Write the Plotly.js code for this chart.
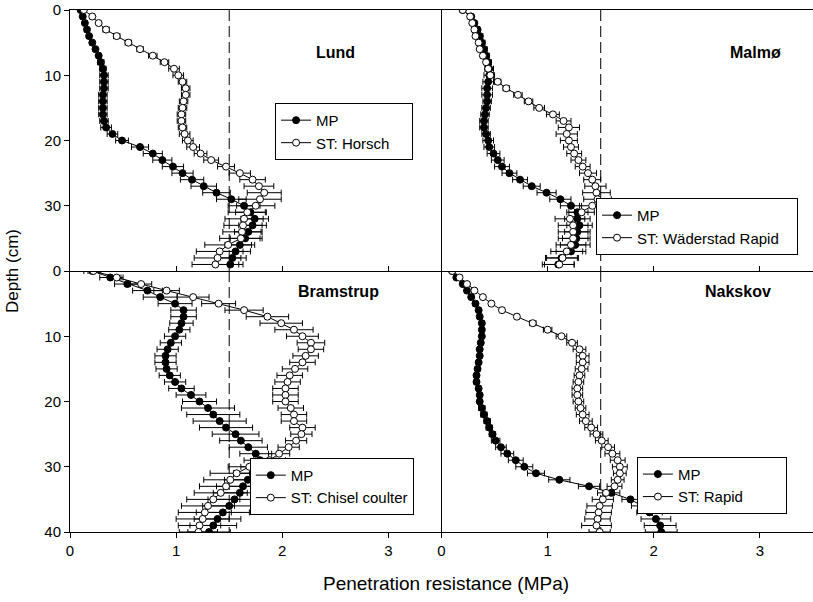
<!DOCTYPE html>
<html>
<head>
<meta charset="utf-8">
<script src="https://cdn.plot.ly/plotly-3.0.1.min.js"></script>
<style>html,body{margin:0;padding:0;background:#fff;}#chart{width:813px;height:602px;}</style>
</head>
<body>
<div id="chart"></div>
<script>
// ---------- DATA ----------
const depthTop = [0,1,2,3,4,5,6,7,8,9,10,11,12,13,14,15,16,17,18,19,20,21,22,23,24,25,26,27,28,29,30,31,32,33,34,35,36,37,38,39];
const depthBottom = [0,1,2,3,4,5,6,7,8,9,10,11,12,13,14,15,16,17,18,19,20,21,22,23,24,25,26,27,28,29,30,31,32,33,34,35,36,37,38,39,40];

const lundMP = [0.10,0.12,0.14,0.16,0.18,0.21,0.24,0.27,0.29,0.31,0.32,0.32,0.32,0.31,0.31,0.31,0.31,0.32,0.34,0.40,0.49,0.66,0.78,0.87,0.97,1.06,1.15,1.26,1.38,1.52,1.64,1.70,1.74,1.72,1.68,1.65,1.60,1.56,1.53,1.51];
const lundMPerr = [0.01,0.01,0.02,0.02,0.02,0.02,0.02,0.02,0.03,0.03,0.04,0.04,0.04,0.04,0.04,0.04,0.04,0.04,0.05,0.05,0.06,0.08,0.09,0.09,0.10,0.10,0.11,0.12,0.13,0.14,0.15,0.14,0.13,0.13,0.13,0.14,0.14,0.14,0.13,0.12];
const lundST = [0.13,0.21,0.27,0.34,0.44,0.55,0.66,0.78,0.89,0.98,1.02,1.06,1.09,1.09,1.07,1.06,1.05,1.05,1.06,1.08,1.11,1.16,1.23,1.33,1.47,1.60,1.72,1.78,1.83,1.79,1.75,1.67,1.64,1.63,1.62,1.61,1.49,1.41,1.39,1.37];
const lundSTerr = [0.01,0.02,0.02,0.03,0.03,0.03,0.03,0.04,0.04,0.05,0.05,0.04,0.04,0.04,0.04,0.04,0.04,0.04,0.04,0.05,0.05,0.06,0.06,0.07,0.08,0.10,0.12,0.14,0.16,0.20,0.18,0.18,0.18,0.18,0.18,0.20,0.22,0.22,0.22,0.22];

const malmoMP = [0.20,0.28,0.31,0.34,0.36,0.38,0.40,0.42,0.44,0.45,0.45,0.44,0.43,0.43,0.43,0.42,0.41,0.40,0.40,0.42,0.44,0.45,0.49,0.53,0.57,0.64,0.74,0.85,0.99,1.12,1.22,1.28,1.28,1.30,1.28,1.27,1.26,1.22,1.13,1.10];
const malmoMPerr = [0.01,0.02,0.02,0.02,0.03,0.03,0.03,0.03,0.03,0.04,0.05,0.05,0.05,0.05,0.04,0.04,0.04,0.04,0.04,0.04,0.05,0.05,0.06,0.06,0.07,0.07,0.07,0.08,0.09,0.10,0.10,0.10,0.12,0.12,0.12,0.13,0.14,0.14,0.15,0.15];
const malmoST = [0.20,0.27,0.29,0.31,0.32,0.35,0.36,0.39,0.42,0.44,0.46,0.53,0.61,0.72,0.82,0.92,1.05,1.15,1.20,1.18,1.20,1.22,1.25,1.29,1.33,1.38,1.42,1.45,1.46,1.47,1.42,1.32,1.21,1.24,1.24,1.24,1.22,1.18,1.14,1.11];
const malmoSTerr = [0.01,0.02,0.02,0.02,0.02,0.02,0.02,0.02,0.02,0.03,0.03,0.03,0.03,0.04,0.04,0.05,0.06,0.07,0.10,0.10,0.08,0.07,0.07,0.07,0.07,0.08,0.08,0.10,0.13,0.13,0.12,0.12,0.14,0.14,0.14,0.14,0.14,0.15,0.15,0.14];

const bramMP = [0.21,0.38,0.54,0.73,0.85,0.99,1.07,1.07,1.05,1.03,0.99,0.95,0.92,0.90,0.90,0.91,0.94,0.99,1.05,1.14,1.22,1.30,1.35,1.41,1.47,1.56,1.61,1.68,1.75,1.79,1.76,1.72,1.675,1.63,1.60,1.55,1.50,1.44,1.39,1.35,1.31];
const bramMPerr = [0.08,0.10,0.12,0.14,0.16,0.16,0.12,0.12,0.11,0.10,0.10,0.10,0.10,0.10,0.10,0.10,0.10,0.10,0.12,0.14,0.16,0.25,0.25,0.25,0.25,0.22,0.20,0.18,0.15,0.15,0.15,0.18,0.22,0.25,0.25,0.25,0.25,0.25,0.22,0.22,0.20];
const bramST = [0.22,0.44,0.67,0.91,1.16,1.40,1.64,1.86,1.99,2.11,2.19,2.27,2.27,2.22,2.19,2.12,2.07,2.05,2.03,2.03,2.03,2.08,2.11,2.11,2.19,2.18,2.13,2.06,1.97,1.88,1.69,1.57,1.51,1.47,1.42,1.35,1.30,1.27,1.25,1.22,1.21];
const bramSTerr = [0.05,0.06,0.10,0.12,0.15,0.16,0.18,0.20,0.20,0.18,0.15,0.13,0.12,0.12,0.12,0.12,0.12,0.12,0.12,0.12,0.12,0.12,0.12,0.12,0.12,0.10,0.10,0.10,0.10,0.15,0.20,0.25,0.25,0.25,0.25,0.25,0.25,0.25,0.25,0.20,0.18];

const naksMP = [0.10,0.14,0.20,0.24,0.28,0.32,0.35,0.36,0.38,0.38,0.38,0.37,0.36,0.36,0.35,0.34,0.33,0.33,0.35,0.36,0.36,0.38,0.40,0.43,0.45,0.48,0.51,0.56,0.62,0.70,0.78,0.89,1.11,1.39,1.60,1.78,1.89,1.96,2.02,2.06,2.07];
const naksMPerr = [0.01,0.01,0.02,0.02,0.02,0.02,0.02,0.02,0.02,0.02,0.02,0.02,0.02,0.02,0.02,0.02,0.02,0.02,0.02,0.02,0.02,0.03,0.03,0.03,0.03,0.03,0.04,0.05,0.06,0.07,0.08,0.08,0.10,0.10,0.08,0.08,0.10,0.12,0.14,0.15,0.15];
const naksST = [0.10,0.17,0.24,0.31,0.39,0.47,0.57,0.71,0.86,1.00,1.13,1.23,1.30,1.33,1.33,1.32,1.30,1.29,1.28,1.28,1.29,1.31,1.33,1.36,1.41,1.46,1.51,1.57,1.61,1.66,1.68,1.68,1.66,1.63,1.55,1.52,1.49,1.48,1.47,1.46,1.49];
const naksSTerr = [0.01,0.02,0.02,0.02,0.02,0.02,0.02,0.02,0.03,0.04,0.05,0.05,0.06,0.06,0.06,0.06,0.05,0.05,0.05,0.05,0.05,0.05,0.06,0.06,0.06,0.06,0.06,0.06,0.07,0.07,0.07,0.06,0.06,0.07,0.08,0.10,0.12,0.12,0.12,0.14,0.10];

const siteNames = ["Lund","Malmø","Bramstrup","Nakskov"];
const stLabels = ["ST: Horsch","ST: Wäderstad Rapid","ST: Chisel coulter","ST: Rapid"];
const mpLabel = "MP";
const threshold = 1.5;
const xTickVals = [0,1,2,3];
const yTickTop = [0,10,20,30];
const yTickBottom = [0,10,20,30,40];

// ---------- BUILD ----------
const FONT = "Liberation Sans, Arial, Helvetica, sans-serif";
const NB = '\u00a0';
const legendPad = [4, 3, 0, 9]; // trailing space so legend boxes get the reference's width
const panels = [
  {x:'x3', y:'y',  legend:'legend',  d:depthTop,    mp:lundMP,  mpe:lundMPerr,  st:lundST,  ste:lundSTerr},
  {x:'x4', y:'y3', legend:'legend2', d:depthTop,    mp:malmoMP, mpe:malmoMPerr, st:malmoST, ste:malmoSTerr},
  {x:'x',  y:'y2', legend:'legend3', d:depthBottom, mp:bramMP,  mpe:bramMPerr,  st:bramST,  ste:bramSTerr},
  {x:'x2', y:'y4', legend:'legend4', d:depthBottom, mp:naksMP,  mpe:naksMPerr,  st:naksST,  ste:naksSTerr}
];

const traces = [];
panels.forEach((p, i) => {
  traces.push({
    type:'scatter', mode:'lines', x:[threshold, threshold], y:[0, 40],
    xaxis:p.x, yaxis:p.y, showlegend:false, hoverinfo:'skip',
    line:{color:'black', width:1, dash:'11px,5px'}
  });
  traces.push({
    type:'scatter', mode:'lines+markers', name:mpLabel, x:p.mp, y:p.d,
    xaxis:p.x, yaxis:p.y, legend:p.legend,
    line:{color:'black', width:1},
    marker:{symbol:'circle', size:7, color:'black', line:{color:'black', width:1}},
    error_x:{type:'data', array:p.mpe, visible:true, color:'black', thickness:1, width:3}
  });
  traces.push({
    type:'scatter', mode:'lines+markers', name:stLabels[i] + NB.repeat(legendPad[i]), x:p.st, y:p.d,
    xaxis:p.x, yaxis:p.y, legend:p.legend,
    line:{color:'black', width:1},
    marker:{symbol:'circle', size:7, color:'white', line:{color:'black', width:1}},
    error_x:{type:'data', array:p.ste, visible:true, color:'black', thickness:1, width:3}
  });
});

const xBase = {range:[0,3.5], showgrid:false, zeroline:false, showline:true, linecolor:'black', linewidth:1,
  tickfont:{family:FONT, size:15, color:'black'}, ticklen:5, tickcolor:'black'};
const yBase = {range:[40,0], showgrid:false, zeroline:false, showline:true, linecolor:'black', linewidth:1,
  tickfont:{family:FONT, size:15, color:'black'}, ticklen:5, tickcolor:'black'};

const legBase = {bgcolor:'white', bordercolor:'black', borderwidth:1, font:{family:FONT, size:15, color:'black'},
  xanchor:'left', yanchor:'top', tracegroupgap:0, itemwidth:30};

const annFont = {family:FONT, size:16, color:'black'};

const layout = {
  width:813, height:602,
  margin:{l:70, r:0, t:10, b:70},
  paper_bgcolor:'white', plot_bgcolor:'white',
  showlegend:true,
  xaxis: Object.assign({}, xBase, {domain:[0,0.5], anchor:'y2', tickvals:xTickVals, ticks:'outside'}),
  xaxis2:Object.assign({}, xBase, {domain:[0.5,1], anchor:'y4', tickvals:xTickVals, ticks:'outside'}),
  xaxis3:Object.assign({}, xBase, {domain:[0,0.5], anchor:'y', tickvals:[1,2,3], ticks:'inside', showticklabels:false, mirror:true}),
  xaxis4:Object.assign({}, xBase, {domain:[0.5,1], anchor:'y3', tickvals:[1,2,3], ticks:'inside', showticklabels:false, mirror:true}),
  yaxis: Object.assign({}, yBase, {domain:[0.5,1], anchor:'x3', tickvals:yTickTop, ticks:'outside'}),
  yaxis2:Object.assign({}, yBase, {domain:[0,0.5], anchor:'x', tickvals:yTickBottom, ticks:'outside'}),
  yaxis3:Object.assign({}, yBase, {domain:[0.5,1], anchor:'x4', ticks:'', showticklabels:false}),
  yaxis4:Object.assign({}, yBase, {domain:[0,0.5], anchor:'x2', ticks:'', showticklabels:false}),
  legend: Object.assign({}, legBase, {x:0.276, y:0.822}),
  legend2:Object.assign({}, legBase, {x:0.708, y:0.640}),
  legend3:Object.assign({}, legBase, {x:0.242, y:0.142}),
  legend4:Object.assign({}, legBase, {x:0.763, y:0.144}),
  annotations:[
    {text:'<b>'+siteNames[0]+'</b>', xref:'paper', yref:'paper', x:0.358, y:0.919, xanchor:'center', yanchor:'middle', showarrow:false, font:annFont},
    {text:'<b>'+siteNames[1]+'</b>', xref:'paper', yref:'paper', x:0.922, y:0.919, xanchor:'center', yanchor:'middle', showarrow:false, font:annFont},
    {text:'<b>'+siteNames[2]+'</b>', xref:'paper', yref:'paper', x:0.361, y:0.460, xanchor:'center', yanchor:'middle', showarrow:false, font:annFont},
    {text:'<b>'+siteNames[3]+'</b>', xref:'paper', yref:'paper', x:0.899, y:0.460, xanchor:'center', yanchor:'middle', showarrow:false, font:annFont},
    {text:'Depth (cm)', xref:'paper', yref:'paper', x:-0.078, y:0.5, xanchor:'center', yanchor:'middle', textangle:-90, showarrow:false,
      font:{family:FONT, size:17, color:'black'}},
    {text:'Penetration resistance (MPa)', xref:'paper', yref:'paper', x:0.506, y:-0.098, xanchor:'center', yanchor:'middle', showarrow:false,
      font:{family:FONT, size:19, color:'black'}}
  ]
};

Plotly.newPlot('chart', traces, layout, {displayModeBar:false, staticPlot:true});
</script>
</body>
</html>
